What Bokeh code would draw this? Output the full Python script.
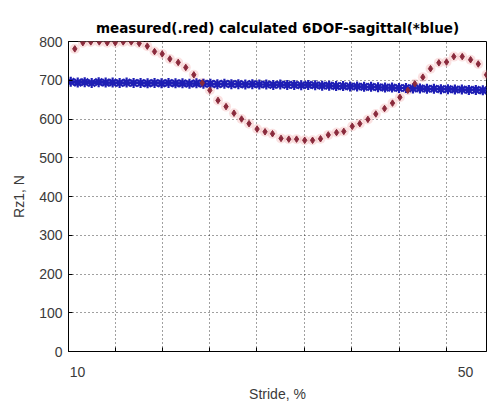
from bokeh.plotting import figure
from bokeh.models import FixedTicker, Range1d
from bokeh.embed import file_html
from bokeh.resources import INLINE

# measured (red dots)
red_x = [9.72, 10.55, 11.37, 12.24, 13.06, 13.89, 14.71, 15.54, 16.36, 17.19,
         17.94, 18.73, 19.52, 20.38, 21.16, 21.99, 22.86, 23.64, 24.48, 25.31,
         26.13, 26.91, 27.68, 28.51, 29.33, 30.10, 30.98, 31.78, 32.58, 33.42,
         34.23, 35.05, 35.85, 36.70, 37.45, 38.32, 39.10, 39.93, 40.75, 41.65,
         42.47, 43.23, 44.05, 44.77, 45.60, 46.39, 47.25, 48.04, 48.79, 49.66,
         50.52, 51.31, 52.16]
red_y = [781, 797, 799, 799, 797, 797, 799, 799, 795, 788,
         774, 768, 755, 746, 733, 714, 693, 674, 648, 632,
         615, 600, 588, 574, 567, 562, 550, 548, 548, 545,
         545, 549, 559, 565, 568, 581, 588, 599, 613, 627,
         641, 656, 674, 691, 708, 730, 745, 747, 761, 761,
         753, 742, 714]

# calculated 6DOF-sagittal (blue stars)
blue_x = [9.30, 10.02, 10.74, 11.46, 12.18, 12.90, 13.62, 14.34, 15.06, 15.78,
          16.50, 17.22, 17.94, 18.66, 19.38, 20.10, 20.82, 21.54, 22.26, 22.98,
          23.70, 24.42, 25.14, 25.86, 26.58, 27.30, 28.02, 28.74, 29.46, 30.18,
          30.90, 31.62, 32.34, 33.06, 33.78, 34.50, 35.22, 35.94, 36.66, 37.38,
          38.10, 38.82, 39.54, 40.26, 40.98, 41.70, 42.42, 43.14, 43.86, 44.58,
          45.30, 46.02, 46.74, 47.46, 48.18, 48.90, 49.62, 50.34, 51.06, 51.78]
blue_y = [696, 694, 695, 693, 695, 694, 694, 693, 694, 693,
          693, 692, 693, 692, 693, 692, 692, 691, 692, 691,
          691, 690, 691, 690, 690, 689, 690, 689, 689, 688,
          689, 688, 688, 687, 688, 687, 686, 686, 685, 685,
          684, 684, 683, 683, 682, 681, 681, 680, 680, 679,
          679, 678, 678, 677, 677, 676, 676, 675, 675, 674]

x_tick_labels = [10, 50]
x_grid_ticks = [13.92, 18.76, 23.61, 28.45, 33.40, 38.25, 43.20, 48.04]
y_ticks = [0, 100, 200, 300, 400, 500, 600, 700, 800]

FONT = "Liberation Sans"

p = figure(width=493, height=405, output_backend="svg", toolbar_location=None,
           title="measured(.red) calculated 6DOF-sagittal(*blue)",
           x_range=Range1d(9.07, 52.16), y_range=Range1d(0, 800),
           min_border_left=68, min_border_right=7, min_border_top=41,
           min_border_bottom=54)

p.title.align = "center"
p.title.text_font = "DejaVu Sans"
p.title.text_font_size = "13.5px"
p.title.text_font_style = "bold"
p.title.text_color = "black"
p.title.standoff = 12

p.background_fill_color = "white"
p.border_fill_color = "white"
p.outline_line_color = "black"
p.outline_line_width = 1

# axes
p.xaxis.ticker = FixedTicker(ticks=x_tick_labels, minor_ticks=x_grid_ticks)
p.xaxis.major_tick_line_color = None
p.xaxis.minor_tick_in = 4
p.xaxis.minor_tick_out = 0
p.xaxis.minor_tick_line_color = "black"
p.yaxis.ticker = FixedTicker(ticks=y_ticks)
p.yaxis.major_tick_in = 4
p.yaxis.major_tick_out = 0
p.yaxis.minor_tick_line_color = None

for ax in (p.xaxis, p.yaxis):
    ax.axis_line_color = "black"
    ax.major_label_text_font = FONT
    ax.major_label_text_font_size = "14px"
    ax.major_label_text_color = "#3a3a3a"
    ax.axis_label_text_font = FONT
    ax.axis_label_text_font_size = "14px"
    ax.axis_label_text_font_style = "normal"
    ax.axis_label_text_color = "#3a3a3a"

p.xaxis.axis_label = "Stride, %"
p.yaxis.axis_label = "Rz1, N"
p.xaxis.major_label_standoff = 9
p.xaxis.axis_label_standoff = 6
p.yaxis.major_label_standoff = 6
p.yaxis.axis_label_standoff = 9

# grid
p.xgrid.ticker = FixedTicker(ticks=x_grid_ticks)
for g in (p.xgrid, p.ygrid):
    g.grid_line_color = "black"
    g.grid_line_dash = "1 3"
    g.grid_line_width = 1
    g.grid_line_alpha = 0.75

# data
p.scatter(red_x, red_y, marker="circle", size=10, fill_color="#f4bcbc",
          fill_alpha=0.45, line_color=None)
p.scatter(blue_x, blue_y, marker="asterisk", size=10, line_color="#1e1eb4",
          line_width=2.2)
p.scatter(red_x, red_y, marker="diamond", size=6.5, fill_color="#8a2a3c",
          line_color="#8a2a3c")

open("out.html", "w").write(file_html(p, INLINE))
